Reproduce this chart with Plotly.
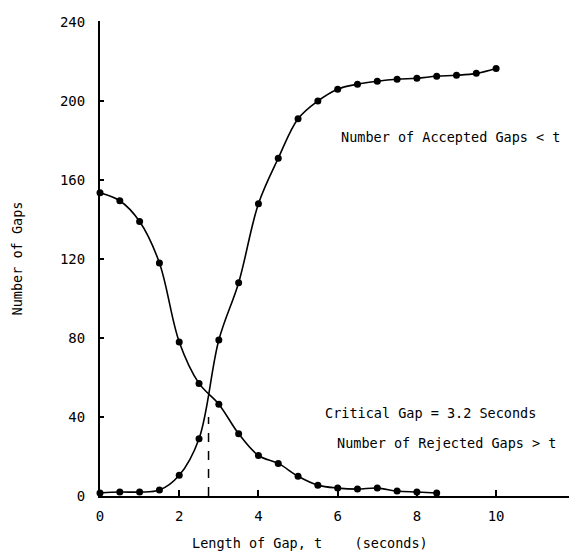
import plotly.graph_objects as go

t_acc = [0, 0.5, 1.0, 1.5, 2.0, 2.5, 3.0, 3.5, 4.0, 4.5, 5.0, 5.5, 6.0, 6.5, 7.0, 7.5, 8.0, 8.5, 9.0, 9.5, 10.0]
n_acc = [1.5, 2, 2, 3, 10.5, 29, 79, 108, 148, 171, 191, 200, 206, 208.5, 210, 211, 211.5, 212.5, 213, 214, 216.5]

t_rej = [0, 0.5, 1.0, 1.5, 2.0, 2.5, 3.0, 3.5, 4.0, 4.5, 5.0, 5.5, 6.0, 6.5, 7.0, 7.5, 8.0, 8.5]
n_rej = [153.5, 149.5, 139, 118, 78, 57, 46.5, 31.5, 20.5, 16.5, 10, 5.5, 4, 3.5, 4, 2.5, 2, 1.5]

crit_x = [2.74, 2.74]
crit_y = [0, 40]

x_ticks = [0, 2, 4, 6, 8, 10]
y_ticks = [0, 40, 80, 120, 160, 200, 240]

FONT = "DejaVu Sans Mono"

fig = go.Figure()
for xs, ys in [(t_acc, n_acc), (t_rej, n_rej)]:
    fig.add_trace(go.Scatter(
        x=xs, y=ys, mode="lines+markers",
        line=dict(color="black", width=1.6, shape="spline", smoothing=1.0),
        marker=dict(color="black", size=7),
        cliponaxis=False, showlegend=False, hoverinfo="skip"))

fig.add_trace(go.Scatter(
    x=crit_x, y=crit_y, mode="lines",
    line=dict(color="black", width=1.5, dash="dash"),
    showlegend=False, hoverinfo="skip"))

fig.update_layout(
    width=569, height=553,
    margin=dict(l=100, r=0, t=21, b=57),
    plot_bgcolor="white", paper_bgcolor="white",
    font=dict(family=FONT, size=14, color="black"),
)
fig.update_xaxes(
    range=[0, 11.84], tickvals=x_ticks, ticktext=[str(v) for v in x_ticks],
    ticks="inside", ticklen=6, tickwidth=1.5, tickcolor="black",
    showline=True, linecolor="black", linewidth=2,
    showgrid=False, zeroline=False, ticklabelstandoff=6,
)
fig.update_yaxes(
    range=[0, 240.5], tickvals=y_ticks, ticktext=[str(v) for v in y_ticks],
    ticks="inside", ticklen=4, tickwidth=1.5, tickcolor="black",
    showline=True, linecolor="black", linewidth=2,
    showgrid=False, zeroline=False, ticklabelstandoff=10,
    title=dict(text="Number of Gaps", font=dict(size=13.5), standoff=34),
)

annos = [
    ("Number of Accepted Gaps < t", 6.04, 181.8),
    ("Critical Gap = 3.2 Seconds", 5.62, 42),
    ("Number of Rejected Gaps > t", 5.94, 26.8),
]
for txt, ax, ay in annos:
    fig.add_annotation(x=ax, y=ay, xref="x", yref="y", text=txt, showarrow=False,
                       xanchor="left", yanchor="middle", font=dict(size=13.5))

fig.add_annotation(
    x=(310 - 100) / 469, y=-(543 - 496) / 475.5, xref="paper", yref="paper",
    text="Length of Gap, t\u00a0\u00a0\u00a0 (seconds)", showarrow=False,
    xanchor="center", yanchor="middle", font=dict(size=13.5))

fig.write_html("out.html")
